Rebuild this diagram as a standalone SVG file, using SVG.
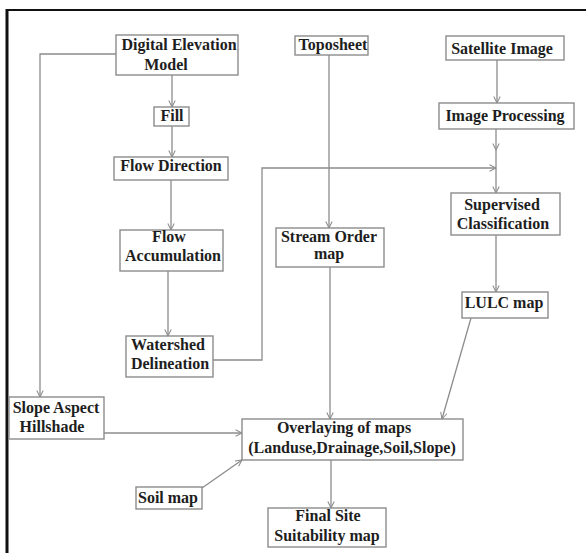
<svg xmlns="http://www.w3.org/2000/svg" width="586" height="553" viewBox="0 0 586 553">
<style>
.box{fill:#fff;stroke:#8c8c8c;stroke-width:1.4}
.t{font-family:"Liberation Serif","Times New Roman",serif;font-weight:bold;font-size:16px;fill:#1e1e1e;text-anchor:middle}
.c{fill:none;stroke:#8c8c8c;stroke-width:1.3}
</style>
<defs>
<marker id="ah" viewBox="0 0 10 10" refX="9" refY="5" markerWidth="8" markerHeight="8" markerUnits="userSpaceOnUse" orient="auto">
<path d="M1,1 L9,5 L1,9" fill="none" stroke="#8c8c8c" stroke-width="1.3"/>
</marker>
</defs>
<rect width="586" height="553" fill="#fff"/>
<g id="frame">
<line x1="6" y1="10" x2="586" y2="10" stroke="#111" stroke-width="2"/>
<line x1="7" y1="9" x2="7" y2="553" stroke="#111" stroke-width="3"/>
</g>
<g id="connectors">
<path class="c" d="M116,54 H40 V397" marker-end="url(#ah)"/>
<path class="c" d="M172,75 V107" marker-end="url(#ah)"/>
<path class="c" d="M172,126 V157" marker-end="url(#ah)"/>
<path class="c" d="M171,180 V230" marker-end="url(#ah)"/>
<path class="c" d="M168,271 V336" marker-end="url(#ah)"/>
<path class="c" d="M213,360 H262 V168 H496" marker-end="url(#ah)"/>
<path class="c" d="M497,60 V103" marker-end="url(#ah)"/>
<path class="c" d="M496,129 V150 V193" marker-mid="url(#ah)" marker-end="url(#ah)"/>
<path class="c" d="M329,55 V228" marker-end="url(#ah)"/>
<path class="c" d="M330,267 V419" marker-end="url(#ah)"/>
<path class="c" d="M496,235 V292" marker-end="url(#ah)"/>
<path class="c" d="M471,318 L442,419" marker-end="url(#ah)"/>
<path class="c" d="M104,433 H242" marker-end="url(#ah)"/>
<path class="c" d="M202,488 L242,460" marker-end="url(#ah)"/>
<path class="c" d="M331,460 V508" marker-end="url(#ah)"/>
</g>
<g id="dem"><rect class="box" x="116" y="35" width="122" height="40"/><text class="t" x="179" y="50">Digital Elevation</text><text class="t" x="166" y="70">Model</text></g>
<g id="toposheet"><rect class="box" x="295" y="36" width="73" height="19"/><text class="t" x="333" y="50">Toposheet</text></g>
<g id="satellite"><rect class="box" x="446" y="36" width="118" height="24"/><text class="t" x="502" y="54">Satellite Image</text></g>
<g id="fill"><rect class="box" x="154" y="107" width="35" height="19"/><text class="t" x="172" y="121">Fill</text></g>
<g id="imageproc"><rect class="box" x="439" y="103" width="135" height="26"/><text class="t" x="505" y="121">Image Processing</text></g>
<g id="flowdir"><rect class="box" x="114" y="157" width="114" height="23"/><text class="t" x="171" y="171">Flow Direction</text></g>
<g id="supervised"><rect class="box" x="451" y="193" width="109" height="42"/><text class="t" x="502" y="210">Supervised</text><text class="t" x="503" y="229">Classification</text></g>
<g id="flowacc"><rect class="box" x="120" y="230" width="103" height="41"/><text class="t" x="169" y="242">Flow</text><text class="t" x="173" y="261">Accumulation</text></g>
<g id="streamorder"><rect class="box" x="276" y="228" width="108" height="39"/><text class="t" x="329" y="242">Stream Order</text><text class="t" x="329" y="259">map</text></g>
<g id="lulc"><rect class="box" x="462" y="292" width="86" height="26"/><text class="t" x="504" y="308">LULC map</text></g>
<g id="watershed"><rect class="box" x="126" y="336" width="87" height="41"/><text class="t" x="168" y="350">Watershed</text><text class="t" x="170" y="369">Delineation</text></g>
<g id="slope"><rect class="box" x="9" y="397" width="95" height="42"/><text class="t" x="56" y="413">Slope Aspect</text><text class="t" x="52" y="432">Hillshade</text></g>
<g id="overlay"><rect class="box" x="242" y="419" width="221" height="41"/><text class="t" x="344" y="433">Overlaying of maps</text><text class="t" x="352" y="453">(Landuse,Drainage,Soil,Slope)</text></g>
<g id="soil"><rect class="box" x="136" y="487" width="66" height="22"/><text class="t" x="168" y="503">Soil map</text></g>
<g id="final"><rect class="box" x="268" y="508" width="118" height="39"/><text class="t" x="328" y="521">Final Site</text><text class="t" x="327" y="541">Suitability map</text></g>
</svg>
